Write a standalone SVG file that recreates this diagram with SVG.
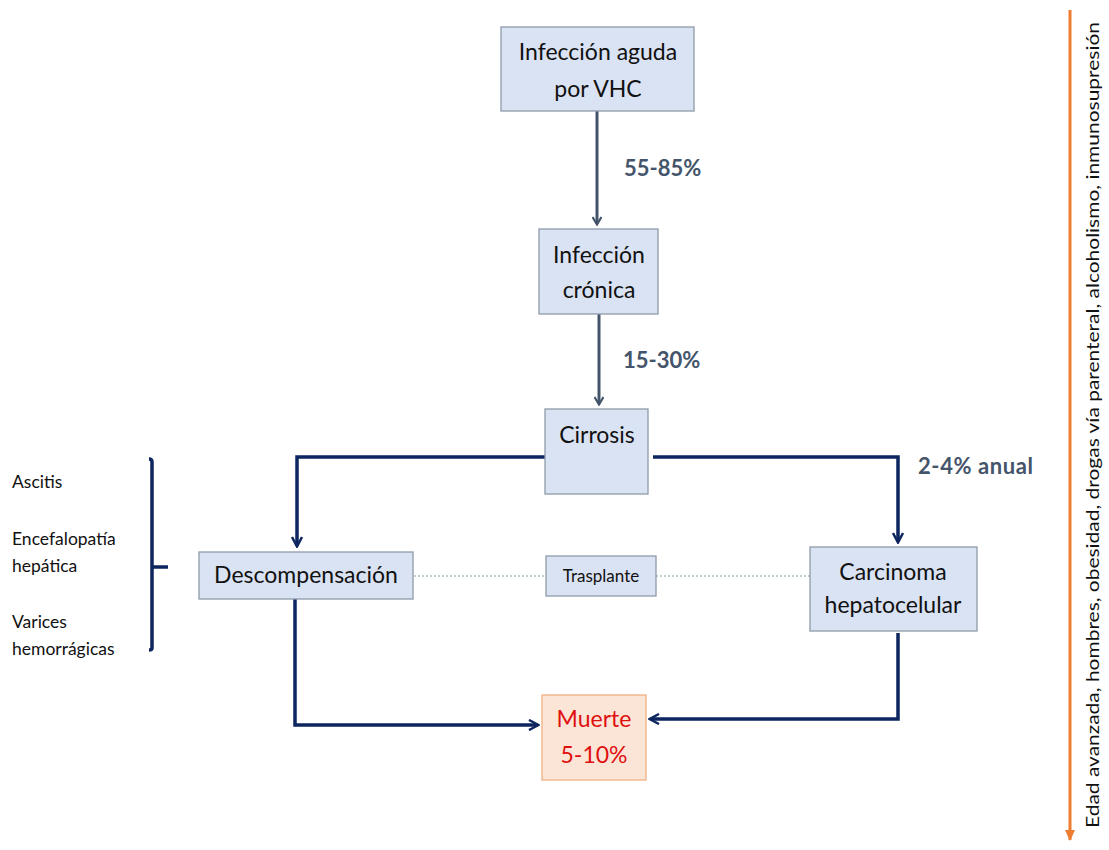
<svg xmlns="http://www.w3.org/2000/svg" width="1109" height="850" viewBox="0 0 1109 850">
<style>
.box{fill:#dae3f3;stroke:#8e9aaa;stroke-width:1.3}
.dead{fill:#fbe5d6;stroke:#f0b080;stroke-width:1.3}
.t{font-family:Lato,"Open Sans","Liberation Sans",sans-serif;fill:#111;text-anchor:middle}
.lbl{font-family:Lato,"Open Sans","Liberation Sans",sans-serif;fill:#44546a;font-weight:bold;font-size:22px}
.side{font-family:Lato,"Open Sans","Liberation Sans",sans-serif;fill:#111;font-size:17.5px}
.gray{fill:none;stroke:#44546a;stroke-width:3}
.navy{fill:none;stroke:#0d2660;stroke-width:3.5}
.dash{fill:none;stroke:#7fa0a0;stroke-width:1;stroke-dasharray:2 2}
</style>
<defs>
<marker id="ag" markerWidth="10" markerHeight="10" refX="8" refY="5" orient="auto" markerUnits="userSpaceOnUse" viewBox="0 0 10 10">
<path d="M1,0.5 L8.5,5 L1,9.5" fill="none" stroke="#44546a" stroke-width="2.2"/>
</marker>
<marker id="an" markerWidth="12" markerHeight="12" refX="10" refY="6" orient="auto" markerUnits="userSpaceOnUse" viewBox="0 0 12 12">
<path d="M1,1 L10.5,6 L1,11" fill="none" stroke="#0d2660" stroke-width="2.5"/>
</marker>
<marker id="ao" markerWidth="12" markerHeight="12" refX="10" refY="6" orient="auto" markerUnits="userSpaceOnUse" viewBox="0 0 12 12">
<path d="M0,1 L11,6 L0,11 Z" fill="#ed7d31"/>
</marker>
</defs>

<g id="connectors">
<line class="gray" x1="597" y1="111" x2="597" y2="224" marker-end="url(#ag)"/>
<line class="gray" x1="599" y1="314" x2="599" y2="404" marker-end="url(#ag)"/>
<polyline class="navy" points="545,457 297,457 297,546" marker-end="url(#an)"/>
<polyline class="navy" points="653,457 898,457 898,542" marker-end="url(#an)"/>
<polyline class="navy" points="295,599 295,725 538,725" marker-end="url(#an)"/>
<polyline class="navy" points="898,633 898,719 650,719" marker-end="url(#an)"/>
<line class="dash" x1="414" y1="576" x2="546" y2="576"/>
<line class="dash" x1="656" y1="576" x2="810" y2="576"/>
<path class="navy" d="M149,459 Q152,459 152,462 L152,648 Q152,650 149,650" stroke-width="3"/>
<line class="navy" x1="152" y1="567" x2="168" y2="567" stroke-width="3"/>
<line x1="1070" y1="10" x2="1070" y2="840" stroke="#ed7d31" stroke-width="3" marker-end="url(#ao)"/>
</g>

<g id="n-aguda">
<rect class="box" x="501" y="27" width="193" height="84"/>
<text class="t" x="598" y="60" font-size="23">Infección aguda</text>
<text class="t" x="598" y="97" font-size="23">por VHC</text>
</g>
<g id="n-cronica">
<rect class="box" x="539" y="229" width="119" height="85"/>
<text class="t" x="599" y="263" font-size="23">Infección</text>
<text class="t" x="599" y="298" font-size="23">crónica</text>
</g>
<g id="n-cirrosis">
<rect class="box" x="545" y="409" width="103" height="85"/>
<text class="t" x="597" y="443" font-size="23">Cirrosis</text>
</g>
<g id="n-descomp">
<rect class="box" x="199" y="552" width="214" height="47"/>
<text class="t" x="306" y="583" font-size="23">Descompensación</text>
</g>
<g id="n-trasplante">
<rect class="box" x="546" y="556" width="110" height="40"/>
<text class="t" x="601" y="582" font-size="17">Trasplante</text>
</g>
<g id="n-carcinoma">
<rect class="box" x="810" y="547" width="167" height="84"/>
<text class="t" x="893" y="580" font-size="23">Carcinoma</text>
<text class="t" x="893" y="613" font-size="23">hepatocelular</text>
</g>
<g id="n-muerte">
<rect class="dead" x="542" y="695" width="104" height="85"/>
<text class="t" x="594" y="727" font-size="23" style="fill:#e01010">Muerte</text>
<text class="t" x="594" y="763" font-size="23" style="fill:#e01010">5-10%</text>
</g>

<g id="labels">
<text class="lbl" x="624" y="176">55-85%</text>
<text class="lbl" x="623" y="368">15-30%</text>
<text class="lbl" x="918" y="474" textLength="115">2-4% anual</text>
</g>

<g id="side-list">
<text class="side" x="12" y="488">Ascitis</text>
<text class="side" x="12" y="545">Encefalopatía</text>
<text class="side" x="12" y="572">hepática</text>
<text class="side" x="12" y="628">Varices</text>
<text class="side" x="12" y="655">hemorrágicas</text>
</g>

<g id="risk-factors">
<text class="side" font-size="17.5" transform="translate(1099,828) rotate(-90)" textLength="806" lengthAdjust="spacingAndGlyphs">Edad avanzada, hombres, obesidad, drogas vía parenteral, alcoholismo, inmunosupresión</text>
</g>
</svg>
